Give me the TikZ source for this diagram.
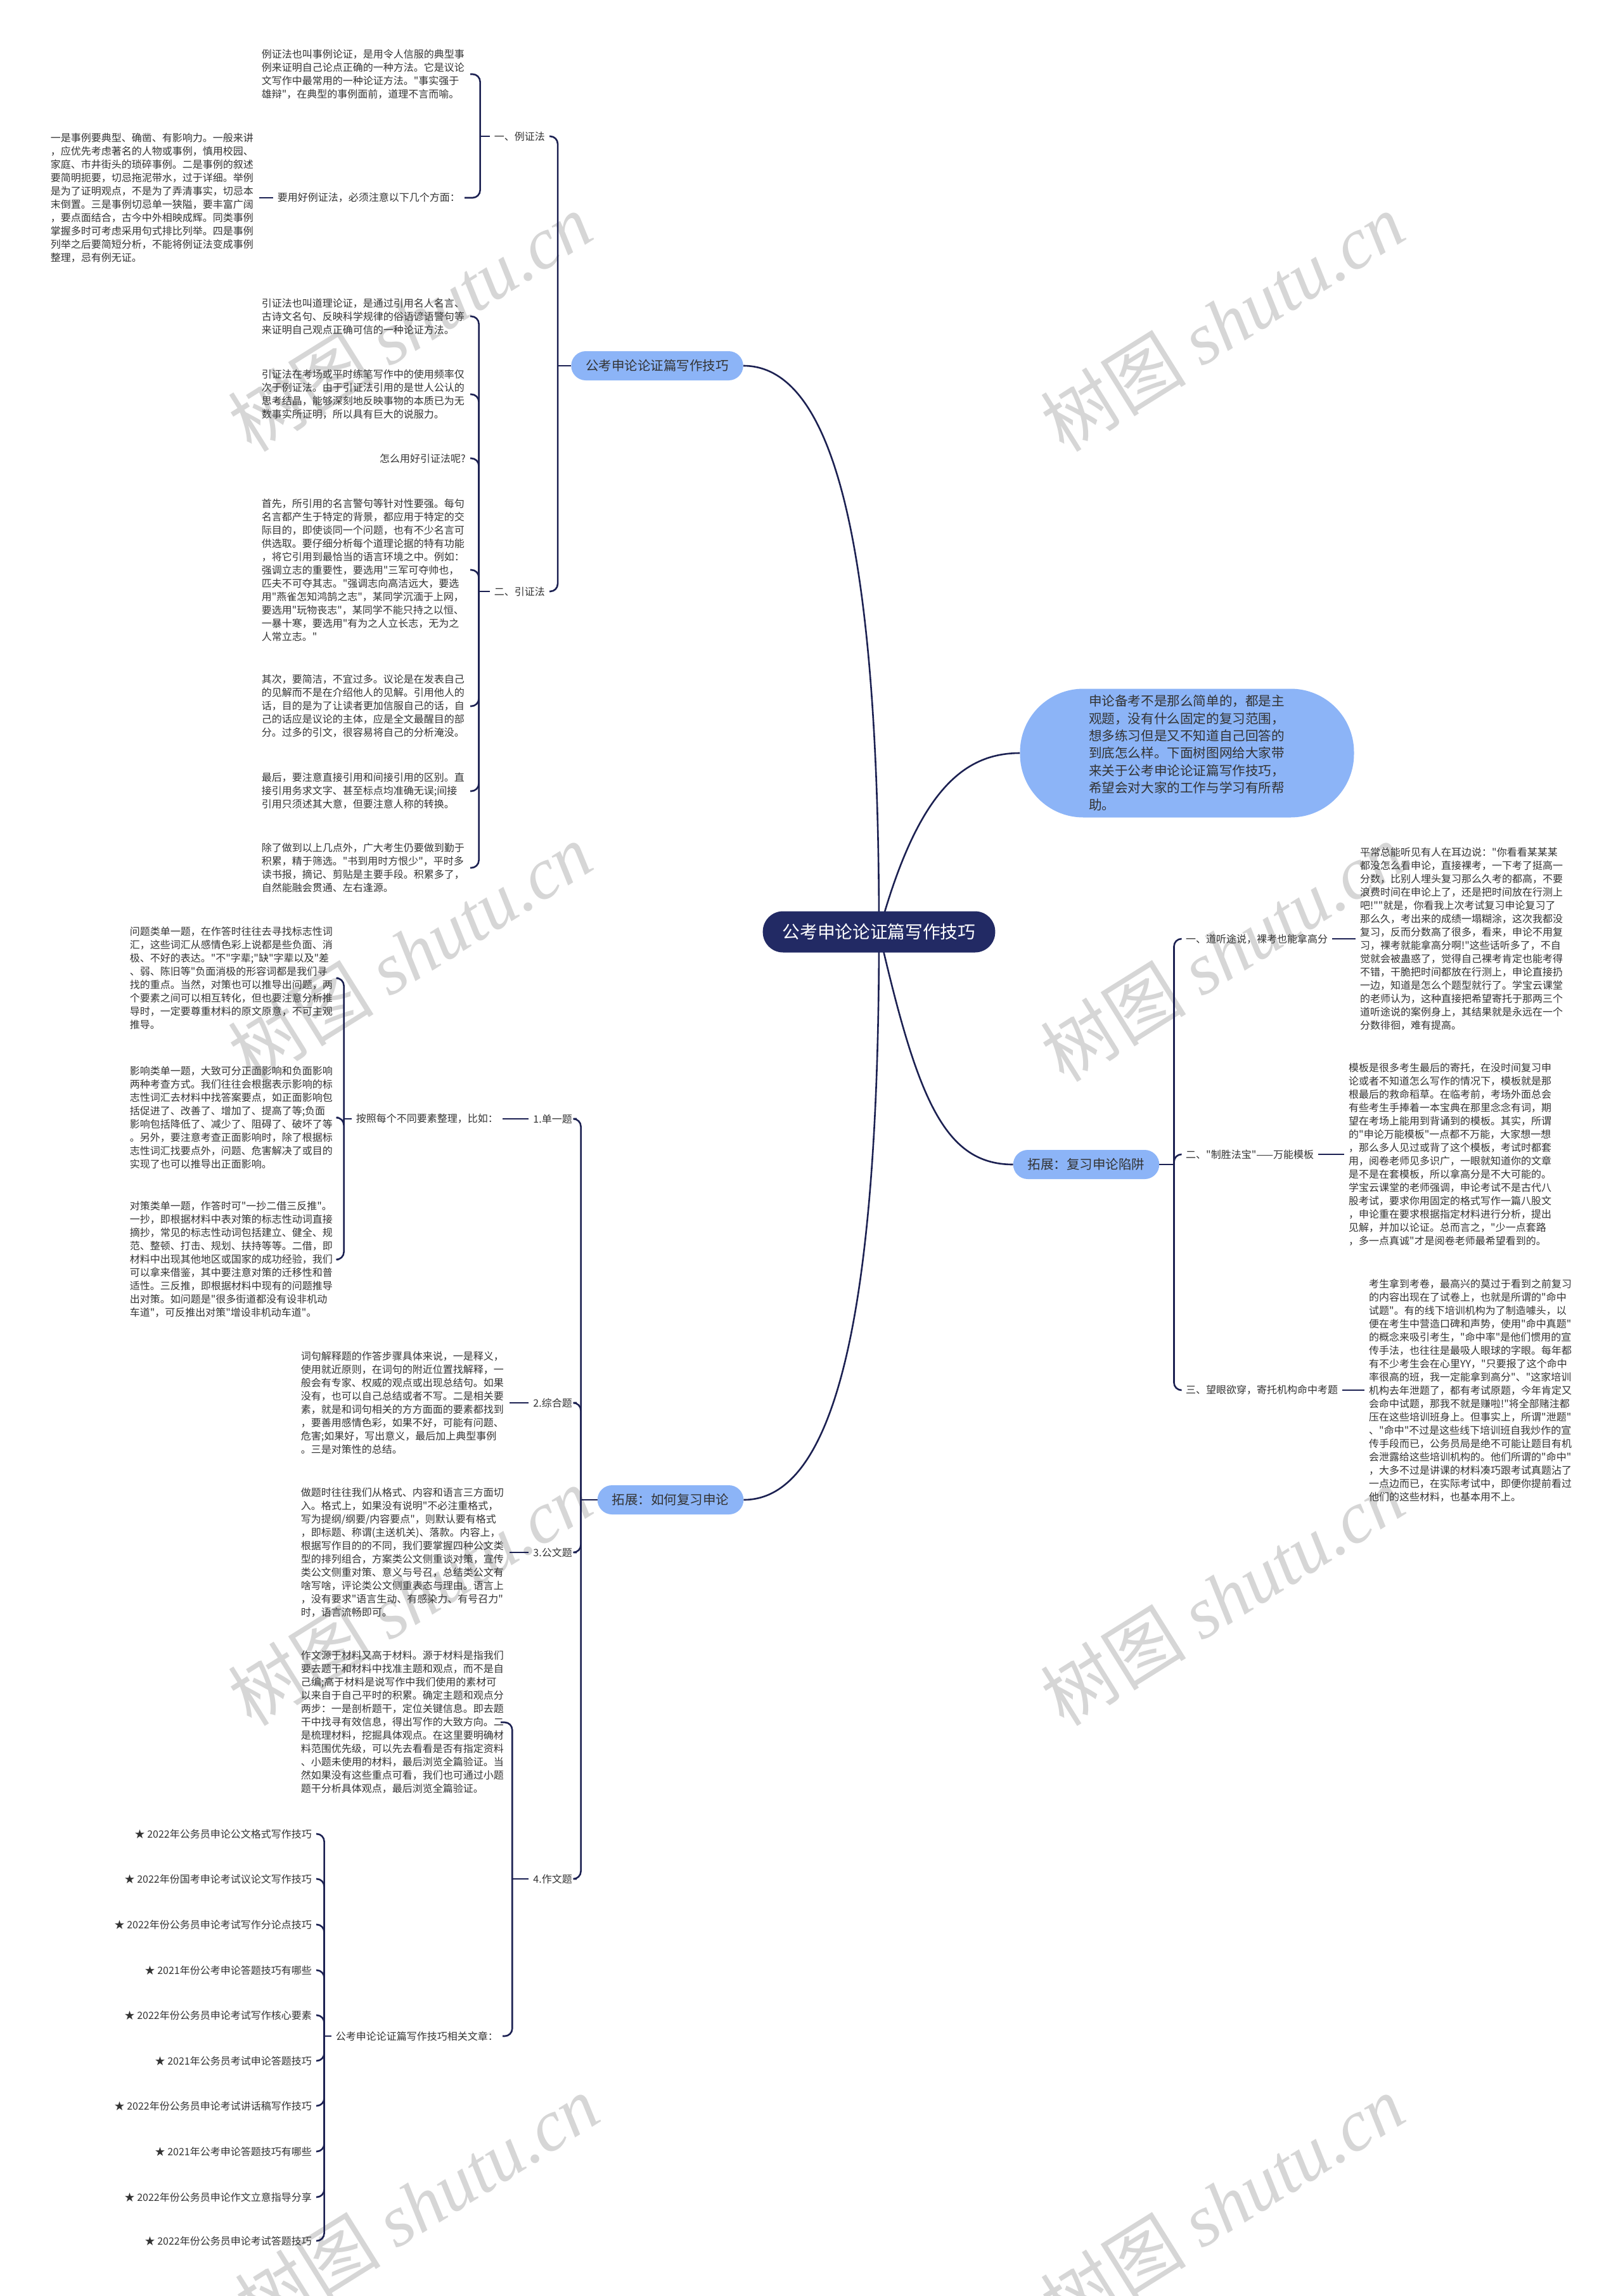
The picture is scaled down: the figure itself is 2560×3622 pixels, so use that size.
\documentclass[tikz,border=0pt]{standalone}
\usepackage{fontspec}
\setmainfont{Noto Sans CJK SC}[Ligatures=TeXOff]
\newfontfamily\wmlatin{Liberation Serif}
\definecolor{pillblue}{HTML}{8CB4F7}
\definecolor{navy}{HTML}{1C2152}
\definecolor{rootnavy}{HTML}{222A64}
\definecolor{txt}{HTML}{333333}
\definecolor{wmgray}{HTML}{D6D6D6}
\newcommand\fsz[2]{\fontsize{#1pt}{#2pt}\selectfont}
\pgfdeclarelayer{wmlayer}
\pgfdeclarelayer{bglayer}
\pgfsetlayers{wmlayer,bglayer,main}
\begin{document}
\begin{tikzpicture}[x=1pt,y=-1pt,
  conn/.style={draw=navy,line width=2.6pt},
  br/.style={draw=navy,line width=2.6pt,rounded corners=12pt,shorten >=7pt},
  gs/.style={shorten <=7pt},
  ge/.style={shorten >=7pt},
  lbl/.style={inner sep=0pt,text=txt,font=\fsz{16}{21}},
  blk/.style={inner sep=0pt,text=txt,font=\fsz{16}{21},text width=322pt,align=left},
  pill/.style={fill=pillblue,text=txt,rounded corners=23pt,minimum height=46pt,inner xsep=23pt,inner ysep=0pt,font=\fsz{20.5}{24}},
  rootnode/.style={fill=rootnavy,text=white,rounded corners=32pt,minimum height=65pt,inner xsep=31pt,inner ysep=0pt,font=\fsz{27.7}{30}},
  wmark/.style={text=wmgray,rotate=32,font=\fsz{115}{115}}
]
\useasboundingbox (0,0) rectangle (2560,3622);

% background and watermarks
\begin{pgfonlayer}{wmlayer}
\fill[white] (0,0) rectangle (2560,3622);
\foreach \wx/\wy [count=\i] in {647/508,1929/508,647/1502,1929/1502,647/2518,1929/2518,658/3477,1929/3477}
  \node[wmark] (wm\i) at (\wx,\wy) {树图 {\wmlatin\itshape shutu.cn}};
\end{pgfonlayer}

% root and main branches
\node[rootnode] (root) at (1387,1470) {公考申论论证篇写作技巧};
\node[pill] (p1) at (1037,577) {公考申论论证篇写作技巧};
\node[pill] (p2) at (1058,2366) {拓展：如何复习申论};
\node[pill] (p3) at (1714,1837) {拓展：复习申论陷阱};
\node[fill=pillblue,text=txt,rounded corners=100pt,minimum width=527pt,minimum height=203pt,text width=310pt,align=left,inner xsep=0pt,inner ysep=0pt,font=\fsz{20.6}{27.3}] (intro) at (1873,1188) {申论备考不是那么简单的，都是主\\观题，没有什么固定的复习范围，\\想多练习但是又不知道自己回答的\\到底怎么样。下面树图网给大家带\\来关于公考申论论证篇写作技巧，\\希望会对大家的工作与学习有所帮\\助。};

% ---- branch 1 ----
\node[lbl,anchor=east] (l1) at (860,215) {一、例证法};
\node[lbl,anchor=east] (l2) at (860,933) {二、引证法};
\node[blk,anchor=east] (a1) at (735,117) {例证法也叫事例论证，是用令人信服的典型事\\例来证明自己论点正确的一种方法。它是议论\\文写作中最常用的一种论证方法。"事实强于\\雄辩"，在典型的事例面前，道理不言而喻。};
\node[lbl,anchor=east] (yong) at (726,312) {要用好例证法，必须注意以下几个方面：};
\node[blk,anchor=east] (a2) at (402,312) {一是事例要典型、确凿、有影响力。一般来讲\\，应优先考虑著名的人物或事例，慎用校园、\\家庭、市井街头的琐碎事例。二是事例的叙述\\要简明扼要，切忌拖泥带水，过于详细。举例\\是为了证明观点，不是为了弄清事实，切忌本\\末倒置。三是事例切忌单一狭隘，要丰富广阔\\，要点面结合，古今中外相映成辉。同类事例\\掌握多时可考虑采用句式排比列举。四是事例\\列举之后要简短分析，不能将例证法变成事例\\整理，忌有例无证。};
\node[blk,anchor=east] (b1) at (735,499) {引证法也叫道理论证，是通过引用名人名言、\\古诗文名句、反映科学规律的俗语谚语警句等\\来证明自己观点正确可信的一种论证方法。};
\node[blk,anchor=east] (b2) at (735,622) {引证法在考场或平时练笔写作中的使用频率仅\\次于例证法。由于引证法引用的是世人公认的\\思考结晶，能够深刻地反映事物的本质已为无\\数事实所证明，所以具有巨大的说服力。};
\node[lbl,anchor=east] (b3) at (735,723) {怎么用好引证法呢?};
\node[blk,anchor=east] (b4) at (735,899) {首先，所引用的名言警句等针对性要强。每句\\名言都产生于特定的背景，都应用于特定的交\\际目的，即使谈同一个问题，也有不少名言可\\供选取。要仔细分析每个道理论据的特有功能\\，将它引用到最恰当的语言环境之中。例如：\\强调立志的重要性，要选用"三军可夺帅也，\\匹夫不可夺其志。"强调志向高洁远大，要选\\用"燕雀怎知鸿鹄之志"，某同学沉湎于上网，\\要选用"玩物丧志"，某同学不能只持之以恒、\\一暴十寒，要选用"有为之人立长志，无为之\\人常立志。"};
\node[blk,anchor=east] (b5) at (735,1114) {其次，要简洁，不宜过多。议论是在发表自己\\的见解而不是在介绍他人的见解。引用他人的\\话，目的是为了让读者更加信服自己的话，自\\己的话应是议论的主体，应是全文最醒目的部\\分。过多的引文，很容易将自己的分析淹没。};
\node[blk,anchor=east] (b6) at (735,1248) {最后，要注意直接引用和间接引用的区别。直\\接引用务求文字、甚至标点均准确无误;间接\\引用只须述其大意，但要注意人称的转换。};
\node[blk,anchor=east] (b7) at (735,1369) {除了做到以上几点外，广大考生仍要做到勤于\\积累，精于筛选。"书到用时方恨少"，平时多\\读书报，摘记、剪贴是主要手段。积累多了，\\自然能融会贯通、左右逢源。};

% ---- branch 2 ----
\node[lbl,anchor=east] (m1) at (903,1765) {1.单一题};
\node[lbl,anchor=east] (m2) at (903,2213) {2.综合题};
\node[lbl,anchor=east] (m3) at (903,2449) {3.公文题};
\node[lbl,anchor=east] (m4) at (903,2964) {4.作文题};
\node[lbl,anchor=east] (anzhao) at (786,1765) {按照每个不同要素整理，比如：};
\node[blk,anchor=east] (c1) at (527,1543) {问题类单一题，在作答时往往去寻找标志性词\\汇，这些词汇从感情色彩上说都是些负面、消\\极、不好的表达。"不"字辈;"缺"字辈以及"差\\、弱、陈旧等"负面消极的形容词都是我们寻\\找的重点。当然，对策也可以推导出问题，两\\个要素之间可以相互转化，但也要注意分析推\\导时，一定要尊重材料的原文原意，不可主观\\推导。};
\node[blk,anchor=east] (c2) at (527,1763) {影响类单一题，大致可分正面影响和负面影响\\两种考查方式。我们往往会根据表示影响的标\\志性词汇去材料中找答案要点，如正面影响包\\括促进了、改善了、增加了、提高了等;负面\\影响包括降低了、减少了、阻碍了、破坏了等\\。另外，要注意考查正面影响时，除了根据标\\志性词汇找要点外，问题、危害解决了或目的\\实现了也可以推导出正面影响。};
\node[blk,anchor=east] (c3) at (527,1987) {对策类单一题，作答时可"一抄二借三反推"。\\一抄，即根据材料中表对策的标志性动词直接\\摘抄，常见的标志性动词包括建立、健全、规\\范、整顿、打击、规划、扶持等等。二借，即\\材料中出现其他地区或国家的成功经验，我们\\可以拿来借鉴，其中要注意对策的迁移性和普\\适性。三反推，即根据材料中现有的问题推导\\出对策。如问题是"很多街道都没有设非机动\\车道"，可反推出对策"增设非机动车道"。};
\node[blk,anchor=east] (d1) at (797,2213) {词句解释题的作答步骤具体来说，一是释义，\\使用就近原则，在词句的附近位置找解释，一\\般会有专家、权威的观点或出现总结句。如果\\没有，也可以自己总结或者不写。二是相关要\\素，就是和词句相关的方方面面的要素都找到\\，要善用感情色彩，如果不好，可能有问题、\\危害;如果好，写出意义，最后加上典型事例\\。三是对策性的总结。};
\node[blk,anchor=east] (d2) at (797,2449) {做题时往往我们从格式、内容和语言三方面切\\入。格式上，如果没有说明"不必注重格式，\\写为提纲/纲要/内容要点"，则默认要有格式\\，即标题、称谓(主送机关)、落款。内容上，\\根据写作目的的不同，我们要掌握四种公文类\\型的排列组合，方案类公文侧重谈对策，宣传\\类公文侧重对策、意义与号召，总结类公文有\\啥写啥，评论类公文侧重表态与理由。语言上\\，没有要求"语言生动、有感染力、有号召力"\\时，语言流畅即可。};
\node[blk,anchor=east] (d3) at (797,2717) {作文源于材料又高于材料。源于材料是指我们\\要去题干和材料中找准主题和观点，而不是自\\己编;高于材料是说写作中我们使用的素材可\\以来自于自己平时的积累。确定主题和观点分\\两步：一是剖析题干，定位关键信息。即去题\\干中找寻有效信息，得出写作的大致方向。二\\是梳理材料，挖掘具体观点。在这里要明确材\\料范围优先级，可以先去看看是否有指定资料\\、小题未使用的材料，最后浏览全篇验证。当\\然如果没有这些重点可看，我们也可通过小题\\题干分析具体观点，最后浏览全篇验证。};
\node[lbl,anchor=east] (xg) at (786,3212) {公考申论论证篇写作技巧相关文章：};
\node[lbl,anchor=east] (s1) at (492,2893) {★ 2022年公务员申论公文格式写作技巧};
\node[lbl,anchor=east] (s2) at (492,2964) {★ 2022年份国考申论考试议论文写作技巧};
\node[lbl,anchor=east] (s3) at (492,3036) {★ 2022年份公务员申论考试写作分论点技巧};
\node[lbl,anchor=east] (s4) at (492,3108) {★ 2021年份公考申论答题技巧有哪些};
\node[lbl,anchor=east] (s5) at (492,3179) {★ 2022年份公务员申论考试写作核心要素};
\node[lbl,anchor=east] (s6) at (492,3251) {★ 2021年公务员考试申论答题技巧};
\node[lbl,anchor=east] (s7) at (492,3322) {★ 2022年份公务员申论考试讲话稿写作技巧};
\node[lbl,anchor=east] (s8) at (492,3394) {★ 2021年公考申论答题技巧有哪些};
\node[lbl,anchor=east] (s9) at (492,3466) {★ 2022年份公务员申论作文立意指导分享};
\node[lbl,anchor=east] (s10) at (492,3535) {★ 2022年份公务员申论考试答题技巧};

% ---- branch 3 (right) ----
\node[lbl,anchor=west] (r1) at (1871,1481) {一、道听途说，裸考也能拿高分};
\node[lbl,anchor=west] (r2) at (1871,1821) {二、"制胜法宝"——万能模板};
\node[lbl,anchor=west] (r3) at (1871,2193) {三、望眼欲穿，寄托机构命中考题};
\node[blk,anchor=west] (e1) at (2146,1481) {平常总能听见有人在耳边说："你看看某某某\\都没怎么看申论，直接裸考，一下考了挺高一\\分数，比别人埋头复习那么久考的都高，不要\\浪费时间在申论上了，还是把时间放在行测上\\吧!""就是，你看我上次考试复习申论复习了\\那么久，考出来的成绩一塌糊涂，这次我都没\\复习，反而分数高了很多，看来，申论不用复\\习，裸考就能拿高分啊!"这些话听多了，不自\\觉就会被蛊惑了，觉得自己裸考肯定也能考得\\不错，干脆把时间都放在行测上，申论直接扔\\一边，知道是怎么个题型就行了。学宝云课堂\\的老师认为，这种直接把希望寄托于那两三个\\道听途说的案例身上，其结果就是永远在一个\\分数徘徊，难有提高。};
\node[blk,anchor=west] (e2) at (2128,1821) {模板是很多考生最后的寄托，在没时间复习申\\论或者不知道怎么写作的情况下，模板就是那\\根最后的救命稻草。在临考前，考场外面总会\\有些考生手捧着一本宝典在那里念念有词，期\\望在考场上能用到背诵到的模板。其实，所谓\\的"申论万能模板"一点都不万能，大家想一想\\，那么多人见过或背了这个模板，考试时都套\\用，阅卷老师见多识广，一眼就知道你的文章\\是不是在套模板，所以拿高分是不大可能的。\\学宝云课堂的老师强调，申论考试不是古代八\\股考试，要求你用固定的格式写作一篇八股文\\，申论重在要求根据指定材料进行分析，提出\\见解，并加以论证。总而言之，"少一点套路\\，多一点真诚"才是阅卷老师最希望看到的。};
\node[blk,anchor=west] (e3) at (2160,2193) {考生拿到考卷，最高兴的莫过于看到之前复习\\的内容出现在了试卷上，也就是所谓的"命中\\试题"。有的线下培训机构为了制造噱头，以\\便在考生中营造口碑和声势，使用"命中真题"\\的概念来吸引考生，"命中率"是他们惯用的宣\\传手法，也往往是最吸人眼球的字眼。每年都\\有不少考生会在心里YY，"只要报了这个命中\\率很高的班，我一定能拿到高分"、"这家培训\\机构去年泄题了，都有考试原题，今年肯定又\\会命中试题，那我不就是赚啦!"将全部赌注都\\压在这些培训班身上。但事实上，所谓"泄题"\\、"命中"不过是这些线下培训班自我炒作的宣\\传手段而已，公务员局是绝不可能让题目有机\\会泄露给这些培训机构的。他们所谓的"命中"\\，大多不过是讲课的材料凑巧跟考试真题沾了\\一点边而已，在实际考试中，即便你提前看过\\他们的这些材料，也基本用不上。};

% ---- connectors ----
\begin{pgfonlayer}{bglayer}
\draw[conn] (root.center) .. controls +(0,-620) and +(140,0) .. (p1.east);
\draw[conn] (root.center) .. controls +(0,620) and +(140,0) .. (p2.east);
\draw[conn] (root.center) .. controls +(60,-220) and +(-90,0) .. (intro.west);
\draw[conn] (root.center) .. controls +(60,260) and +(-110,0) .. (p3.west);
% branch 1
\draw[conn] (p1.west) -- ++(-21,0);
\foreach \c in {l1,l2} \draw[br] (p1.west) ++(-21,0) |- (\c.east);
\draw[conn,gs] (l1.west) -- ++(-22,0);
\foreach \c in {a1,yong} \draw[br] (l1.west) ++(-22,0) |- (\c.east);
\draw[conn,gs,ge] (yong.west) -- (a2.east);
\draw[conn,gs] (l2.west) -- ++(-24,0);
\foreach \c in {b1,b2,b3,b4,b5,b6,b7} \draw[br] (l2.west) ++(-24,0) |- (\c.east);
% branch 2
\draw[conn] (p2.west) -- ++(-26,0);
\foreach \c in {m1,m2,m3,m4} \draw[br] (p2.west) ++(-26,0) |- (\c.east);
\draw[conn,gs,ge] (m1.west) -- (anzhao.east);
\draw[conn,gs] (anzhao.west) -- ++(-19,0);
\foreach \c in {c1,c2,c3} \draw[br] (anzhao.west) ++(-19,0) |- (\c.east);
\draw[conn,gs,ge] (m2.west) -- (d1.east);
\draw[conn,gs,ge] (m3.west) -- (d2.east);
\draw[conn,gs] (m4.west) -- ++(-33,0);
\foreach \c in {d3,xg} \draw[br] (m4.west) ++(-33,0) |- (\c.east);
\draw[conn,gs] (xg.west) -- ++(-18,0);
\foreach \c in {s1,s2,s3,s4,s5,s6,s7,s8,s9,s10} \draw[br] (xg.west) ++(-18,0) |- (\c.east);
% branch 3
\draw[conn] (p3.east) -- ++(23,0);
\foreach \c in {r1,r2,r3} \draw[br] (p3.east) ++(23,0) |- (\c.west);
\draw[conn,gs,ge] (r1.east) -- (e1.west);
\draw[conn,gs,ge] (r2.east) -- (e2.west);
\draw[conn,gs,ge] (r3.east) -- (e3.west);
\end{pgfonlayer}
\end{tikzpicture}
\end{document}
